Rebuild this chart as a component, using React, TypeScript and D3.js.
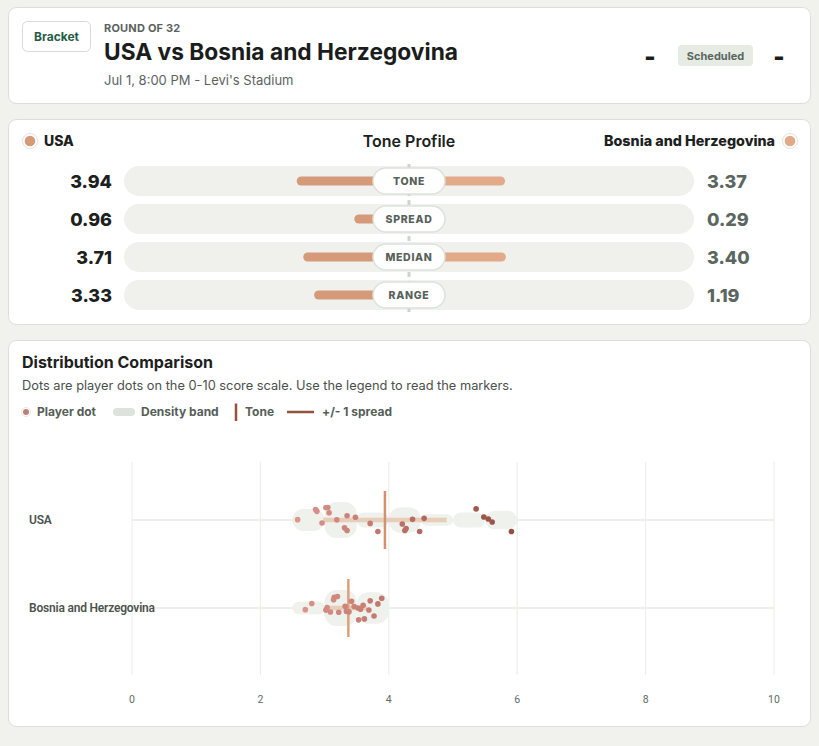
import * as d3 from "d3";

const W = 819;
const H = 746;

const matchRound = "ROUND OF 32";
const matchTitle = "USA vs Bosnia and Herzegovina";
const matchMeta = "Jul 1, 8:00 PM - Levi's Stadium";
const matchStatus = "Scheduled";

const teams = ["USA", "Bosnia and Herzegovina"];
const teamColors = ["#d49a7a", "#e2aa88"];
const toneColors = ["#d4916e", "#df9f78"];

const metrics = ["TONE", "SPREAD", "MEDIAN", "RANGE"];
const metricMax = [10, 5, 10, 10];
const usaProfile = [3.94, 0.96, 3.71, 3.33];
const bihProfile = [3.37, 0.29, 3.4, 1.19];

// player dots, 0-10 score
const usaDots = [
  2.58, 2.86, 2.88, 2.96, 3.02, 3.05, 3.07, 3.19, 3.31, 3.35, 3.35, 3.48, 3.71,
  3.83, 4.21, 4.25, 4.27, 4.37, 4.48, 4.55, 5.36, 5.48, 5.55, 5.61, 5.91,
];
const bihDots = [
  2.7, 2.8, 3.02, 3.04, 3.09, 3.14, 3.15, 3.2, 3.22, 3.32, 3.34, 3.38, 3.42,
  3.46, 3.52, 3.53, 3.56, 3.6, 3.62, 3.69, 3.71, 3.77, 3.83, 3.89,
];
const teamDots = [usaDots, bihDots];

const xTicks = [0, 2, 4, 6, 8, 10];

const FONT = "Inter, 'Noto Sans', sans-serif";

const Card = ({ y, h }: { y: number; h: number }) => (
  <rect x={8.5} y={y + 0.5} width={802} height={h} rx={8} fill="#fff" stroke="#dcdfd9" />
);

const TeamMark = ({ cx, cy, color }: { cx: number; cy: number; color: string }) => (
  <g>
    <circle cx={cx} cy={cy} r={7.5} fill="#fff" stroke="#e1e4df" />
    <circle cx={cx} cy={cy} r={5.3} fill={color} />
  </g>
);

const ToneProfile = () => {
  const cx = 409;
  const trackX0 = 124;
  const trackX1 = 694;
  const rowY = d3.scalePoint<string>().domain(metrics).range([181, 295]);
  return (
    <g fontFamily={FONT}>
      <TeamMark cx={30} cy={141} color={teamColors[0]} />
      <text x={44} y={146} fontSize={14} fontWeight={800} fill="#1c211e">{teams[0]}</text>
      <text x={cx} y={146.5} fontSize={16} fontWeight={600} fill="#1c211e" textAnchor="middle">Tone Profile</text>
      <text x={775} y={146} fontSize={14} fontWeight={800} fill="#1c211e" textAnchor="end" textLength={171} lengthAdjust="spacingAndGlyphs">{teams[1]}</text>
      <TeamMark cx={790} cy={141} color={teamColors[1]} />
      {metrics.map((m) => (
        <rect key={m} x={trackX0} y={rowY(m)! - 15} width={trackX1 - trackX0} height={30} rx={15} fill="#f0f1ed" />
      ))}
      <line x1={cx} x2={cx} y1={164} y2={312} stroke="#ced5ce" strokeWidth={3} strokeDasharray="5 4" />
      {metrics.map((m, i) => {
        const len = d3.scaleLinear().domain([0, metricMax[i]]).range([0, cx - trackX0]);
        const y = rowY(m)!;
        const a = len(usaProfile[i]);
        const b = len(bihProfile[i]);
        return (
          <g key={m}>
            <rect x={cx - a} y={y - 4.5} width={a} height={9} rx={4.5} fill={teamColors[0]} />
            <rect x={cx} y={y - 4.5} width={b} height={9} rx={4.5} fill={teamColors[1]} />
            <rect x={cx - 36} y={y - 13} width={72} height={26} rx={13} fill="#fff" stroke="#dde2db" strokeWidth={1.5} />
            <text x={cx} y={y + 3.7} fontSize={10.5} fontWeight={800} letterSpacing={0.7} fill="#56615a" textAnchor="middle">{m}</text>
            <text x={112} y={y + 6.5} fontSize={18} fontWeight={800} fill="#1c211e" textAnchor="end">{usaProfile[i].toFixed(2)}</text>
            <text x={707} y={y + 6.5} fontSize={18} fontWeight={800} fill="#5b6660">{bihProfile[i].toFixed(2)}</text>
          </g>
        );
      })}
    </g>
  );
};

const Distribution = () => {
  const x = d3.scaleLinear().domain([0, 10]).range([132, 774]);
  const y = d3.scalePoint<string>().domain(teams).range([476, 652]).padding(0.5);
  const plotTop = 462;
  const plotBottom = 675;
  const dotColor = d3.scaleLinear<string>().domain([2.5, 6]).range(["#df968f", "#924c3e"]).interpolate(d3.interpolateLab).clamp(true);
  const binner = d3.bin().domain([0, 10]).thresholds(d3.range(0, 10.5, 0.5));
  const rand = d3.randomUniform.source(d3.randomLcg(0.37))(-12.5, 12.5);

  return (
    <g fontFamily={FONT}>
      <text x={22} y={368} fontSize={16} fontWeight={700} fill="#1c211e">Distribution Comparison</text>
      <text x={22} y={390} fontSize={12.8} fill="#4a504c">Dots are player dots on the 0-10 score scale. Use the legend to read the markers.</text>
      <g fontSize={12} fontWeight={700} fill="#555e58">
        <circle cx={26} cy={412} r={4.5} fill="#fff" stroke="#e6e8e4" />
        <circle cx={26} cy={412} r={3} fill="#c07f77" />
        <text x={37} y={416}>Player dot</text>
        <rect x={113} y={408} width={22} height={8} rx={4} fill="#dde2dc" />
        <text x={141} y={416}>Density band</text>
        <line x1={236} x2={236} y1={403.5} y2={421} stroke="#98503f" strokeWidth={2.5} />
        <text x={245} y={416}>Tone</text>
        <line x1={287} x2={314} y1={412} y2={412} stroke="#98503f" strokeWidth={2.5} />
        <text x={322} y={416}>+/- 1 spread</text>
      </g>

      {xTicks.map((t) => (
        <line key={t} x1={x(t)} x2={x(t)} y1={plotTop} y2={plotBottom} stroke="#ebecea" strokeWidth={1} />
      ))}
      {xTicks.map((t) => (
        <text key={t} x={x(t)} y={703} fontSize={10.5} fill="#636a65" textAnchor="middle" fontFamily="Roboto, sans-serif">{t}</text>
      ))}

      {teams.map((team, ti) => {
        const cy = y(team)!;
        const dots = teamDots[ti];
        const bins = binner(dots).filter((b) => b.length > 0);
        const maxCount = d3.max(bins, (b) => b.length)!;
        const bandH = d3.scaleLinear().domain([0, maxCount]).range([8, 36]);
        const tone = ti === 0 ? usaProfile[0] : bihProfile[0];
        const spread = ti === 0 ? usaProfile[1] : bihProfile[1];
        return (
          <g key={team}>
            <line x1={x(0)} x2={x(10)} y1={cy} y2={cy} stroke="#eeefeb" strokeWidth={2} />
            <text x={29} y={cy + 4} fontSize={12} fontWeight={600} fill="#4b534e" fontFamily="Roboto, sans-serif" letterSpacing={-0.2}>{team}</text>
            {bins.map((b, bi) => {
              const h = bandH(b.length);
              return (
                <rect key={bi} x={x(b.x0!)} y={cy - h / 2} width={x(b.x1!) - x(b.x0!)} height={h} rx={Math.min(h / 2, 12)} fill="#eef0eb" opacity={0.95} />
              );
            })}
            <line x1={x(tone - spread)} x2={x(tone + spread)} y1={cy} y2={cy} stroke="#e6c8b2" strokeWidth={4.5} opacity={0.85} />
            <line x1={x(tone)} x2={x(tone)} y1={cy - 29} y2={cy + 29} stroke={toneColors[ti]} strokeWidth={2.5} />
            {dots.map((d, di) => (
              <circle key={di} cx={x(d)} cy={cy + rand()} r={2.8} fill={dotColor(d)} />
            ))}
          </g>
        );
      })}
    </g>
  );
};

export default function App() {
  return (
    <div style={{ position: "absolute", left: 0, top: 0 }}>
      <svg width={W} height={H} style={{ display: "block" }}>
        <rect width={W} height={H} fill="#f1f2ee" />
        <Card y={7} h={96} />
        <Card y={119} h={205} />
        <Card y={340} h={386} />

        <g fontFamily={FONT}>
          <rect x={22.5} y={21.5} width={68} height={30} rx={5} fill="#fff" stroke="#d6dbd5" />
          <text x={56.5} y={41} fontSize={12} fontWeight={700} fill="#1f5c45" textAnchor="middle">Bracket</text>
          <text x={104} y={32} fontSize={11} fontWeight={700} fill="#5b625d" letterSpacing={0.2}>{matchRound}</text>
          <text x={104} y={60} fontSize={23} fontWeight={700} fill="#1a1d1b" textLength={354} lengthAdjust="spacingAndGlyphs">{matchTitle}</text>
          <text x={104} y={85} fontSize={13} fill="#5c635f">{matchMeta}</text>
          <text x={650} y={65} fontSize={24} fontWeight={900} fill="#1a1d1b" textAnchor="middle">-</text>
          <rect x={678} y={45} width={75} height={21} rx={4} fill="#e6ebe4" />
          <text x={715.5} y={60} fontSize={11} fontWeight={700} fill="#5b6660" textAnchor="middle">{matchStatus}</text>
          <text x={779} y={65} fontSize={24} fontWeight={900} fill="#1a1d1b" textAnchor="middle">-</text>
        </g>

        <ToneProfile />
        <Distribution />
      </svg>
    </div>
  );
}
